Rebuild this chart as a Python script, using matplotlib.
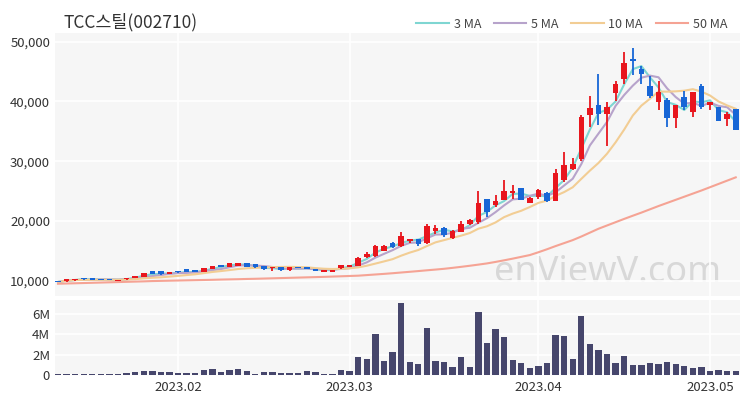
import matplotlib
matplotlib.use('Agg')
import matplotlib.pyplot as plt
import numpy as np
import pandas as pd

plt.rcParams['font.family'] = ['Noto Sans CJK KR', 'DejaVu Sans']

title = 'TCC스틸(002710)'
holidays = ['2023-01-23', '2023-01-24', '2023-03-01', '2023-05-01', '2023-05-05']
dates = pd.bdate_range('2023-01-10', '2023-05-08', freq='C', holidays=holidays)

opens = [9950, 9880, 10060, 10500, 10400, 10250, 10200, 10000, 10230, 10400,
         10620, 11620, 11620, 11120, 11670, 11890, 11730, 11500, 12000, 12670,
         12340, 12450, 12890, 12720, 12450, 12060, 12230, 11730, 12230, 12230,
         12000, 11450, 11450, 12120, 12350, 12440, 14000, 14100, 15000, 16300,
         15800, 16700, 16950, 16300, 18250, 18900, 17100, 18200, 19450, 19750,
         23650, 22600, 23550, 24600, 25500, 23000, 24000, 24750, 23350, 26800,
         28700, 30400, 37800, 39450, 37900, 41350, 43750, 47050, 45400, 42600,
         39850, 40250, 37250, 40700, 38300, 42600, 39450, 39100, 37050, 38700]
highs = [10000, 10250, 10350, 10520, 10420, 10280, 10230, 10200, 10520, 10800,
         11360, 11650, 11660, 11520, 11700, 11920, 11760, 12080, 12520, 12700,
         13020, 12910, 12920, 12750, 12480, 12250, 12260, 12250, 12260, 12260,
         12030, 11860, 11860, 12640, 12620, 13900, 14800, 15900, 16000, 16500,
         18100, 17050, 17000, 19500, 19250, 18950, 18550, 19950, 20300, 25100,
         23700, 24300, 26800, 25950, 25550, 23950, 25400, 24800, 28750, 31500,
         30500, 37650, 40950, 44550, 39950, 43450, 48200, 49000, 45950, 44300,
         43450, 40650, 39450, 41800, 41600, 43000, 39950, 39150, 38300, 38750]
lows = [9750, 9850, 10030, 10200, 10150, 10150, 10130, 9980, 10200, 10380,
        10600, 11080, 11040, 11100, 11380, 11480, 11430, 11480, 11980, 12260,
        12320, 12430, 12260, 12210, 11870, 11670, 11710, 11710, 12100, 11930,
        11600, 11430, 11430, 12050, 12300, 12400, 13800, 13900, 14900, 15400,
        15600, 16300, 15850, 16100, 17900, 17400, 17050, 18150, 19400, 19500,
        20700, 22300, 23500, 23750, 23500, 22950, 23700, 23250, 23300, 26500,
        28450, 30000, 35650, 36050, 32600, 40100, 42900, 44400, 42900, 40650,
        38600, 35650, 35550, 38550, 37450, 38700, 38550, 36650, 35950, 35200]
closes = [9800, 10230, 10340, 10230, 10170, 10200, 10170, 10170, 10500, 10780,
          11340, 11120, 11060, 11500, 11400, 11500, 11450, 12060, 12500, 12280,
          13000, 12890, 12280, 12230, 11890, 12230, 11730, 12230, 12120, 11950,
          11620, 11840, 11840, 12620, 12600, 13850, 14500, 15780, 15750, 15700,
          17450, 17000, 16200, 19200, 18800, 17600, 18350, 19450, 20100, 22950,
          21500, 23400, 25100, 25100, 23560, 23900, 25200, 23300, 28000, 29300,
          29550, 37450, 38900, 37900, 39100, 43000, 46500, 46700, 44550, 40850,
          41600, 37250, 39450, 39000, 41600, 39000, 39950, 36700, 37900, 35250]
volumes = [90e3, 90e3, 90e3, 90e3, 90e3, 90e3, 90e3, 90e3, 170e3, 300e3,
           430e3, 370e3, 270e3, 270e3, 170e3, 170e3, 200e3, 470e3, 630e3, 330e3,
           520e3, 570e3, 370e3, 130e3, 330e3, 330e3, 170e3, 170e3, 170e3, 370e3,
           270e3, 130e3, 130e3, 530e3, 370e3, 1.77e6, 1.53e6, 4.03e6, 1.4e6, 2.23e6,
           7.07e6, 1.27e6, 1.07e6, 4.6e6, 1.37e6, 1.27e6, 800e3, 1.8e6, 830e3, 6.23e6,
           3.17e6, 4.5e6, 3.73e6, 1.5e6, 1.2e6, 670e3, 930e3, 1.23e6, 3.97e6, 3.83e6,
           1.53e6, 5.8e6, 3.07e6, 2.47e6, 2.07e6, 1.2e6, 1.83e6, 970e3, 970e3, 1.17e6,
           1.1e6, 1.33e6, 1.07e6, 900e3, 730e3, 830e3, 400e3, 530e3, 400e3, 430e3]
# 50 day average (needs history before the window)
ma50 = [9500, 9540, 9580, 9620, 9660, 9700, 9740, 9780, 9820, 9860,
        9900, 9950, 9980, 10010, 10040, 10070, 10100, 10130, 10160, 10200,
        10230, 10260, 10300, 10330, 10370, 10410, 10450, 10490, 10530, 10570,
        10610, 10650, 10700, 10750, 10800, 10850, 10950, 11050, 11150, 11260,
        11380, 11500, 11620, 11750, 11870, 12000, 12160, 12330, 12510, 12700,
        12900, 13150, 13420, 13700, 14000, 14300, 14770, 15270, 15800, 16300,
        16800, 17400, 18050, 18700, 19250, 19800, 20350, 20880, 21400, 21950,
        22500, 23020, 23540, 24060, 24580, 25100, 25650, 26200, 26750, 27300]

ma_names = ['3 MA', '5 MA', '10 MA', '50 MA']
ma_colors = ['#7fd6d2', '#b7a3cb', '#f2cd94', '#f5a394']
up_color = '#e8161d'
down_color = '#1766d6'
vol_color = '#46466c'
bg = '#f6f6f6'

df = pd.DataFrame({'open': opens, 'high': highs, 'low': lows,
                   'close': closes, 'volume': volumes}, index=dates)
x = np.arange(len(df))
ma_lines = [df['close'].rolling(3, min_periods=1).mean(),
            df['close'].rolling(5, min_periods=1).mean(),
            df['close'].rolling(10, min_periods=1).mean(),
            pd.Series(ma50, index=dates)]

fig = plt.figure(figsize=(7.5, 4), dpi=100)
ax = fig.add_axes([0.0733, 0.26, 0.9134, 0.6575])
axv = fig.add_axes([0.0733, 0.06, 0.9134, 0.19], sharex=ax)

# month ticks at first trading day
month_idx = [i for i in range(1, len(df)) if dates[i].month != dates[i - 1].month]
month_lbl = [dates[i].strftime('%Y.%m') for i in month_idx]

for a in (ax, axv):
    a.set_facecolor(bg)
    for s in a.spines.values():
        s.set_visible(False)
    a.grid(True, color='white', linewidth=1.2)
    a.set_axisbelow(True)
    a.tick_params(length=0, labelsize=9.5, colors='#333333')
    a.set_xticks(month_idx)

ax.text(0.807, 0.02, 'enViewV.com', transform=ax.transAxes, ha='center', va='bottom',
        fontsize=26, color='#c4c4c4', alpha=0.6, family=['Noto Sans', 'DejaVu Sans'], zorder=0)

lines = []
for s, c, n in zip(ma_lines, ma_colors, ma_names):
    l, = ax.plot(x, s.values, color=c, linewidth=1.5, label=n, zorder=2)
    lines.append(l)

up = df['close'] >= df['open']
colors = np.where(up, up_color, down_color)
body_lo = np.minimum(df['open'], df['close'])
body_h = np.maximum(np.abs(df['close'] - df['open']), 60)
ax.vlines(x, df['low'], df['high'], colors=colors, linewidth=1.3, zorder=3)
ax.bar(x, body_h, bottom=body_lo, width=0.65, color=colors, zorder=4)

ax.set_xlim(-0.35, len(df) - 0.5)
ax.set_ylim(7450, 51450)
ax.set_yticks([10000, 20000, 30000, 40000, 50000])
ax.set_yticklabels(['{:,}'.format(v) for v in [10000, 20000, 30000, 40000, 50000]])
ax.tick_params(axis='x', labelbottom=False)

axv.bar(x, df['volume'], width=0.74, color=vol_color, zorder=3)
axv.set_ylim(-0.1e6, 7.4e6)
axv.set_yticks([0, 2e6, 4e6, 6e6])
axv.set_yticklabels(['0', '2M', '4M', '6M'])
axv.set_xticklabels(month_lbl)

fig.text(0.084, 0.945, title, fontsize=12.5, color='#333333', va='center')
fig.legend(handles=lines, loc='center right', bbox_to_anchor=(0.985, 0.94), ncol=4,
           frameon=False, fontsize=9, handlelength=2.6, handletextpad=0.4,
           columnspacing=1.0, labelcolor='#444444')

fig.savefig('out.png', dpi=100, facecolor='white')
